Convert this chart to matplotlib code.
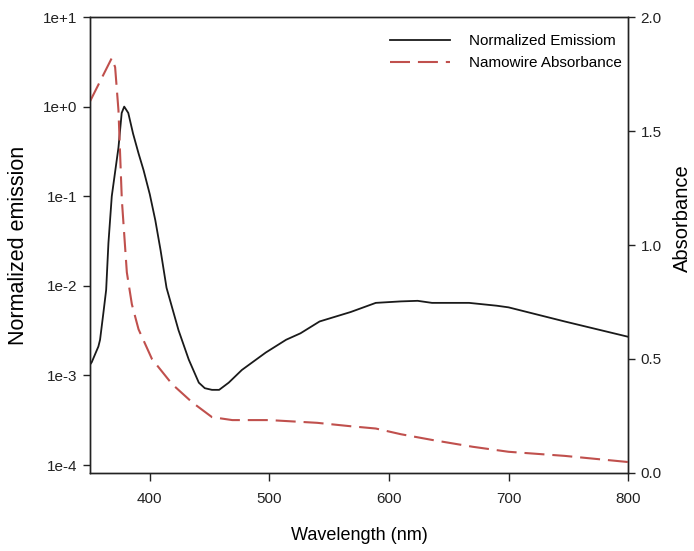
import matplotlib
matplotlib.use("Agg")
import matplotlib.pyplot as plt
import numpy as np

plt.rcParams['font.family'] = ['Liberation Sans', 'DejaVu Sans']

# Normalized emission (log scale, left axis)
em_wl = [350, 351.4, 355.6, 357, 358.4, 361.2, 363.5, 365.4, 368.2, 373.8, 376.5,
         378.6, 382, 386, 390.6, 394.8, 400, 404.6, 409, 414, 424, 432.6, 441,
         446, 452, 458, 466, 477, 497, 514, 526, 542, 568, 589, 610, 624, 636,
         667, 690, 700, 747, 800]
em_val = [1.32e-3, 1.4e-3, 1.9e-3, 2.1e-3, 2.5e-3, 5.0e-3, 9.0e-3, 3.0e-2, 0.10,
          0.35, 0.85, 1.0, 0.85, 0.50, 0.30, 0.195, 0.105, 0.054, 0.025, 0.0095,
          3.2e-3, 1.5e-3, 8.3e-4, 7.2e-4, 6.9e-4, 6.9e-4, 8.3e-4, 1.15e-3, 1.8e-3,
          2.5e-3, 2.95e-3, 4.0e-3, 5.1e-3, 6.45e-3, 6.7e-3, 6.8e-3, 6.45e-3,
          6.45e-3, 6.0e-3, 5.75e-3, 4.0e-3, 2.7e-3]

# Nanowire absorbance (linear, right axis)
ab_wl = [350, 368.2, 371, 373.8, 376.6, 380.8, 385, 390.6, 401.8, 418.6, 435.4,
         452, 469, 500, 540, 568, 589, 610, 636, 670, 700, 747, 800]
ab_val = [1.63, 1.82, 1.78, 1.59, 1.20, 0.88, 0.74, 0.63, 0.50, 0.39, 0.31,
          0.245, 0.232, 0.232, 0.22, 0.205, 0.195, 0.17, 0.145, 0.115, 0.093,
          0.075, 0.048]

xticks = [400, 500, 600, 700, 800]
yticks_left = [1e-4, 1e-3, 1e-2, 1e-1, 1e0, 1e1]
yticklabels_left = ['1e-4', '1e-3', '1e-2', '1e-1', '1e+0', '1e+1']
yticks_right = [0.0, 0.5, 1.0, 1.5, 2.0]

fig = plt.figure(figsize=(6.94, 5.51), dpi=100)
ax = fig.add_axes([0.1297, 0.1416, 0.7753, 0.8275])
ax2 = ax.twinx()

red = '#C0504D'
l1, = ax.plot(em_wl, em_val, color='#1a1a1a', lw=1.3, label='Normalized Emissiom')
l2, = ax2.plot(ab_wl, ab_val, color=red, lw=1.5, dashes=(9.6, 3.8),
               label='Namowire Absorbance')

ax.set_yscale('log')
ax.set_xlim(350, 800)
ax.set_ylim(10 ** -4.089, 10)
ax2.set_ylim(0, 2.0)

ax.set_xticks(xticks)
ax.set_yticks(yticks_left)
ax.set_yticklabels(yticklabels_left)
ax.yaxis.set_minor_locator(matplotlib.ticker.NullLocator())
ax2.set_yticks(yticks_right)
ax2.set_yticklabels([f'{v:.1f}' for v in yticks_right])

for a in (ax, ax2):
    a.tick_params(direction='out', length=5, width=1, labelsize=11,
                  colors='#222222', pad=4)
    for s in a.spines.values():
        s.set_linewidth(1.0)
        s.set_color('#222222')
ax.tick_params(axis='x', length=6, pad=8)

ax.set_xlabel('Wavelength (nm)', fontsize=13)
ax.xaxis.set_label_coords(0.5, -0.118)
ax.set_ylabel('Normalized emission', fontsize=15.5)
ax.yaxis.set_label_coords(-0.113, 0.5)
ax2.set_ylabel('Absorbance', fontsize=14.5)
ax2.yaxis.set_label_coords(1.084, 0.56)

leg = ax.legend(handles=[l1, l2], loc='upper right', bbox_to_anchor=(1.0, 0.976),
                frameon=False, fontsize=11, handlelength=3.9, handletextpad=1.25,
                borderaxespad=0.0, labelspacing=0.55)

fig.savefig('out.png', dpi=100)
